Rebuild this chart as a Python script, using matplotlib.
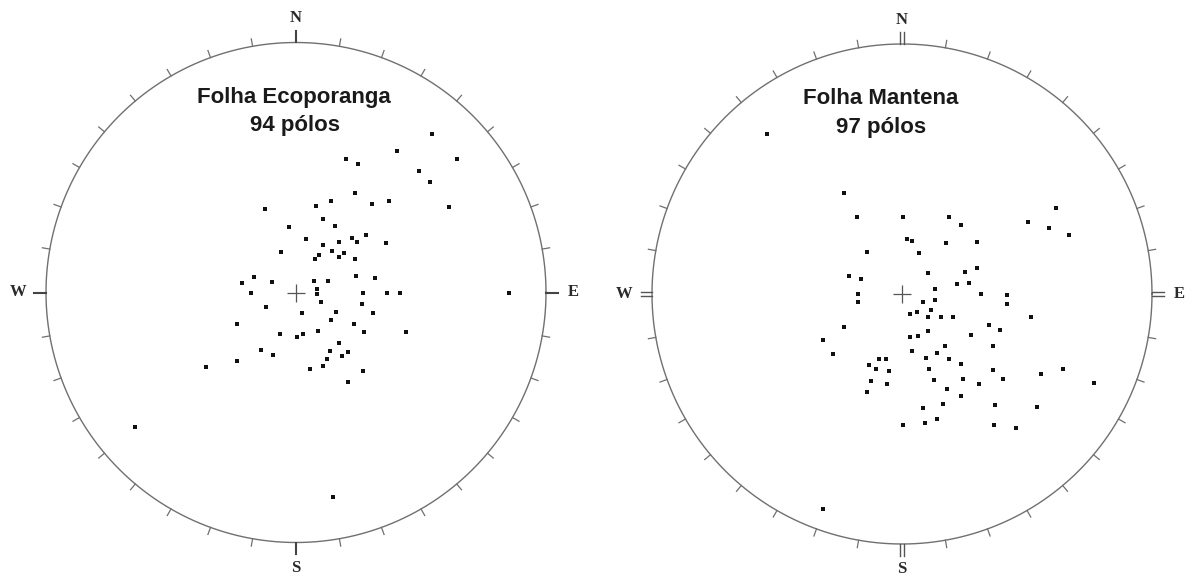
import numpy as np
import matplotlib
matplotlib.use("Agg")
import matplotlib.pyplot as plt

# Pole positions on the equal-area net, in units of the primitive-circle radius
# (east = +x, north = +y)
eco_east = [0.543, 0.405, 0.200, 0.247, 0.645, 0.493, 0.536, 0.235, 0.139, 0.079,
            0.303, 0.373, 0.613, -0.125, 0.109, 0.157, -0.028, 0.040, 0.225, 0.279,
            0.243, 0.173, 0.109, 0.360, -0.061, 0.143, 0.192, 0.173, 0.091, 0.077,
            0.235, -0.168, -0.217, -0.096, 0.073, 0.127, 0.240, 0.315, -0.180, 0.083,
            0.083, 0.099, 0.267, 0.365, 0.416, -0.120, 0.263, 0.025, 0.160, 0.309,
            0.139, -0.235, 0.232, 0.087, -0.064, 0.005, 0.027, 0.272, 0.440, 0.172,
            -0.140, -0.091, 0.136, 0.207, 0.184, 0.125, -0.235, -0.360, 0.056, 0.109,
            0.267, 0.207, -0.644, 0.149, 0.852]
eco_north = [0.634, 0.567, 0.533, 0.514, 0.533, 0.487, 0.443, 0.399, 0.366, 0.345,
             0.353, 0.365, 0.341, 0.334, 0.293, 0.266, 0.263, 0.214, 0.218, 0.229,
             0.202, 0.202, 0.191, 0.199, 0.162, 0.167, 0.157, 0.141, 0.149, 0.133,
             0.135, 0.063, 0.039, 0.042, 0.047, 0.047, 0.065, 0.058, -0.002, 0.013,
             -0.006, -0.037, -0.002, -0.002, -0.002, -0.058, -0.047, -0.081, -0.078, -0.081,
             -0.111, -0.127, -0.126, -0.153, -0.166, -0.177, -0.167, -0.158, -0.158, -0.203,
             -0.231, -0.249, -0.233, -0.237, -0.254, -0.265, -0.274, -0.298, -0.305, -0.294,
             -0.314, -0.357, -0.537, -0.817, -0.002]

man_east = [-0.541, -0.232, -0.181, 0.003, 0.187, 0.235, 0.616, 0.505, 0.587, 0.669,
            0.021, 0.041, 0.175, 0.299, -0.141, 0.067, -0.211, -0.165, 0.104, 0.253,
            0.299, 0.219, 0.267, 0.133, -0.176, -0.176, 0.083, 0.133, 0.316, 0.421,
            0.421, 0.059, 0.117, 0.032, 0.104, 0.157, 0.203, 0.517, -0.232, -0.315,
            -0.277, 0.347, 0.391, 0.275, 0.032, 0.065, 0.103, 0.363, 0.172, 0.041,
            0.140, -0.091, -0.065, 0.095, 0.187, -0.131, -0.104, -0.054, 0.108, 0.236,
            0.363, 0.645, 0.557, 0.769, -0.125, -0.060, 0.128, 0.243, 0.307, 0.403,
            -0.141, 0.181, 0.236, 0.163, 0.083, 0.372, 0.539, 0.003, 0.093, 0.140,
            0.367, 0.455, -0.315]
man_north = [0.640, 0.403, 0.309, 0.309, 0.309, 0.276, 0.345, 0.287, 0.264, 0.236,
             0.221, 0.212, 0.203, 0.209, 0.167, 0.163, 0.072, 0.060, 0.083, 0.088,
             0.104, 0.039, 0.043, 0.020, -0.001, -0.032, -0.032, -0.024, -0.001, -0.003,
             -0.040, -0.073, -0.064, -0.081, -0.091, -0.091, -0.091, -0.091, -0.131, -0.185,
             -0.239, -0.125, -0.144, -0.163, -0.173, -0.168, -0.147, -0.208, -0.208, -0.227,
             -0.237, -0.258, -0.260, -0.257, -0.259, -0.285, -0.300, -0.308, -0.300, -0.281,
             -0.304, -0.299, -0.321, -0.355, -0.346, -0.361, -0.345, -0.339, -0.361, -0.339,
             -0.391, -0.379, -0.409, -0.440, -0.457, -0.445, -0.451, -0.523, -0.515, -0.501,
             -0.523, -0.537, -0.861]

title_names = ["Folha Ecoporanga", "Folha Mantena"]
title_counts = ["94 pólos", "97 pólos"]
cardinals = ["N", "E", "S", "W"]
tick_step = 10  # degrees

W, H = 1193, 579
fig = plt.figure(figsize=(W / 100, H / 100), dpi=100)

L = 1.15
R_PX = 250.0
SIDE = 2 * L * R_PX


def make_net(cx, cy, east, north, name, count, title_dx, double_cardinal):
    ax = fig.add_axes([(cx - SIDE / 2) / W, (H - cy - SIDE / 2) / H, SIDE / W, SIDE / H])
    ax.set_xlim(-L, L)
    ax.set_ylim(-L, L)
    ax.axis("off")
    col = "#707070"
    t = np.linspace(0, 2 * np.pi, 721)
    ax.plot(np.cos(t), np.sin(t), color=col, lw=1.0, clip_on=False)
    for az in range(0, 360, tick_step):
        a = np.radians(az)
        s, c = np.sin(a), np.cos(a)
        if az % 90 == 0:
            ln = 0.046
            if double_cardinal:
                for off in (-0.007, 0.007):
                    ax.plot([s + off * c, s * (1 + ln) + off * c],
                            [c - off * s, c * (1 + ln) - off * s],
                            color="#555555", lw=1.0, clip_on=False)
            else:
                ax.plot([s, s * (1 + ln)], [c, c * (1 + ln)], color="#444444",
                        lw=1.5, clip_on=False)
        else:
            ln = 0.03
            ax.plot([s, s * (1 + ln)], [c, c * (1 + ln)], color=col, lw=0.9,
                    clip_on=False)
    # cardinal labels
    pos = {"N": (0, 1.098), "E": (1.11, 0), "S": (0, -1.1), "W": (-1.11, 0)}
    for lab in cardinals:
        x, y = pos[lab]
        ax.text(x, y, lab, ha="center", va="center", fontsize=12,
                family="Liberation Serif", fontweight="bold", color="#2a2a2a",
                clip_on=False)
    # centre cross
    ax.plot([0], [0], marker="+", ms=13, mew=0.9, color="#555555", ls="none")
    # poles
    ax.plot(east, north, ls="none", marker="s", ms=2.5, mew=0,
            color="#111111")
    ax.text(title_dx, 0.782, name, ha="center", va="center", fontsize=16,
            family="Liberation Sans", fontweight="bold", color="#1a1a1a")
    ax.text(title_dx + 0.004, 0.668, count, ha="center", va="center", fontsize=16,
            family="Liberation Sans", fontweight="bold", color="#1a1a1a")
    return ax


make_net(296, 292.5, eco_east, eco_north, title_names[0], title_counts[0], -0.01, False)
make_net(902, 294, man_east, man_north, title_names[1], title_counts[1], -0.086, True)

fig.savefig("out.png", dpi=100, facecolor="white")
